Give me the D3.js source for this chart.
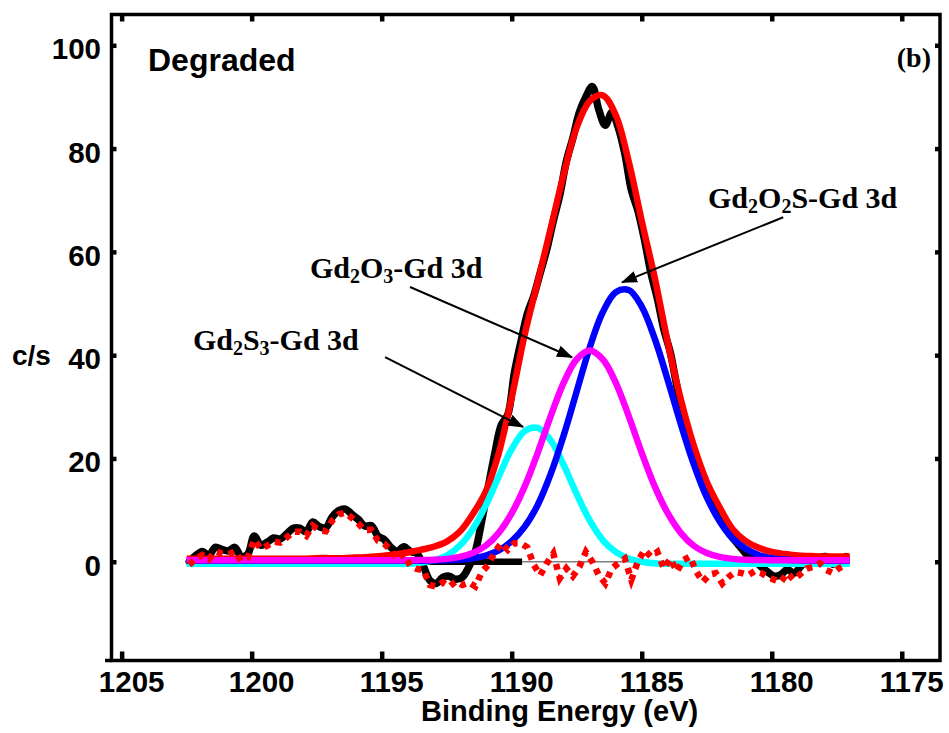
<!DOCTYPE html>
<html>
<head>
<meta charset="utf-8">
<script src="https://cdn.jsdelivr.net/npm/d3@7"></script>
<style>
  body { margin: 0; background: #fff; }
  svg { display: block; }
</style>
</head>
<body>
<svg width="949" height="733"></svg>
<script>
// fitted components on a 0.5 eV grid
const fitEnergy = [
  1202.5, 1202, 1201.5, 1201, 1200.5, 1200, 1199.5, 1199, 1198.5, 1198,
  1197.5, 1197, 1196.5, 1196, 1195.5, 1195, 1194.5, 1194, 1193.5, 1193,
  1192.5, 1192, 1191.5, 1191, 1190.5, 1190, 1189.5, 1189, 1188.5, 1188,
  1187.5, 1187, 1186.5, 1186, 1185.5, 1185, 1184.5, 1184, 1183.5, 1183,
  1182.5, 1182, 1181.5, 1181, 1180.5, 1180, 1179.5, 1179, 1178.5, 1178,
  1177.5, 1177
];
const gd2s3Fit = [
  -0.4, -0.4, -0.4, -0.4, -0.4, -0.4, -0.4, -0.4, -0.4, -0.4,
  -0.4, -0.4, -0.4, -0.4, -0.4, -0.4, -0.4, -0.4, -0.2, 0.3,
  1.2, 3.1, 6.3, 10.9, 16.5, 21.8, 25.3, 25.9, 23.5, 18.7,
  13.1, 8.0, 4.2, 1.9, 0.6, 0.0, -0.3, -0.4, -0.4, -0.4,
  -0.4, -0.4, -0.4, -0.4, -0.4, -0.4, -0.4, -0.4, -0.4, -0.4,
  -0.4, -0.4
];
const gd2o3Fit = [
  0.3, 0.3, 0.3, 0.3, 0.3, 0.3, 0.3, 0.3, 0.3, 0.3,
  0.3, 0.3, 0.3, 0.3, 0.3, 0.3, 0.3, 0.3, 0.34, 0.4,
  0.56, 0.93, 1.7, 3.1, 5.6, 9.4, 14.6, 21.1, 28.2, 34.7,
  39.2, 40.9, 39.2, 34.7, 28.2, 21.1, 14.6, 9.4, 5.6, 3.1,
  1.7, 0.93, 0.56, 0.4, 0.34, 0.3, 0.3, 0.3, 0.3, 0.3,
  0.3, 0.3
];
const gd2o2sFit = [
  0.2, 0.2, 0.2, 0.2, 0.2, 0.2, 0.2, 0.2, 0.2, 0.2,
  0.2, 0.2, 0.2, 0.2, 0.2, 0.2, 0.2, 0.2, 0.2, 0.23,
  0.27, 0.39, 0.65, 1.2, 2.2, 4.0, 6.8, 11.0, 17.0, 24.5,
  33.0, 41.5, 48.3, 52.2, 52.6, 49.4, 43.2, 35.2, 26.7, 18.9,
  12.5, 7.8, 4.5, 2.5, 1.3, 0.7, 0.43, 0.29, 0.23, 0.2,
  0.2, 0.2
];
const envelopeFit = [
  0.6, 0.6, 0.6, 0.6, 0.6, 0.6, 0.6, 0.6, 0.6, 0.6,
  0.7, 0.7, 0.7, 0.8, 0.9, 1.1, 1.4, 1.8, 2.3, 2.9,
  3.9, 5.8, 9.2, 13.6, 21.0, 31.8, 44.0, 54.2, 64.5, 75.0,
  84.1, 89.2, 90.3, 86.5, 77.5, 66.0, 55.0, 42.5, 31.5, 22.5,
  15.5, 10.5, 6.3, 4.0, 2.7, 1.9, 1.5, 1.2, 1.1, 1.0,
  1.0, 1.0
];

// measured spectrum and residual, 0.25 eV steps
const rawEnergy = [
  1202.4, 1202.15, 1201.9, 1201.65, 1201.4, 1201.15, 1200.9, 1200.65, 1200.4, 1200.15,
  1199.9, 1199.65, 1199.4, 1199.15, 1198.9, 1198.65, 1198.4, 1198.15, 1197.9, 1197.65,
  1197.4, 1197.15, 1196.9, 1196.65, 1196.4, 1196.15, 1195.9, 1195.65, 1195.4, 1195.15,
  1194.9, 1194.65, 1194.4, 1194.15, 1193.9, 1193.65, 1193.4, 1193.15, 1192.9, 1192.65,
  1192.4, 1192.15, 1191.9, 1191.65, 1191.4, 1191.15, 1190.9, 1190.65, 1190.4, 1190.15,
  1189.9, 1189.65, 1189.4, 1189.15, 1188.9, 1188.65, 1188.4, 1188.15, 1187.9, 1187.65,
  1187.4, 1187.15, 1186.9, 1186.65, 1186.4, 1186.15, 1185.9, 1185.65, 1185.4, 1185.15,
  1184.9, 1184.65, 1184.4, 1184.15, 1183.9, 1183.65, 1183.4, 1183.15, 1182.9, 1182.65,
  1182.4, 1182.15, 1181.9, 1181.65, 1181.4, 1181.15, 1180.9, 1180.65, 1180.4, 1180.15,
  1179.9, 1179.65, 1179.4, 1179.15, 1178.9, 1178.65, 1178.4, 1178.15, 1177.9, 1177.65,
  1177.4, 1177.15
];
const rawCounts = [
  0.0, 1.2, 2.0, 1.2, 2.8, 2.4, 2.1, 2.8, 1.0, 1.5,
  5.0, 3.2, 3.8, 4.6, 4.4, 5.4, 6.5, 6.5, 5.8, 7.7,
  6.8, 6.6, 8.7, 9.9, 10.2, 9.2, 8.2, 6.9, 7.0, 5.0,
  4.3, 2.8, 2.0, 2.9, 2.0, 1.6, -0.8, -3.6, -4.2, -3.0,
  -2.8, -3.4, -3.0, -1.0, 2.0, 8.0, 14.5, 21.0, 26.5, 28.5,
  36.5, 42.5, 48.0, 51.5, 56.0, 60.5, 66.0, 71.0, 77.5, 82.0,
  87.0, 90.0, 92.0, 87.5, 84.5, 87.0, 84.0, 79.0, 72.0, 68.0,
  62.5, 56.0, 51.0, 45.0, 40.5, 34.0, 28.0, 24.0, 19.5, 16.0,
  12.5, 10.0, 7.5, 5.5, 4.0, 2.5, 1.0, 0.2, -1.0, -2.0,
  -2.8, -2.5, -1.5, -2.2, -1.0, 0.5, 0.0, 0.8, 1.0, -0.5,
  0.3, 1.0
];
const residual = [
  -0.6, 0.6, 1.3, 0.5, 2.0, 1.6, 1.4, 2.0, 0.2, 0.8,
  4.3, 2.5, 3.1, 3.9, 3.7, 4.7, 5.8, 5.8, 5.0, 7.0,
  6.1, 5.9, 8.0, 9.2, 9.5, 8.5, 7.4, 6.1, 6.2, 4.1,
  3.5, 2.2, 0.5, 1.5, -0.8, -1.4, -1.6, -4.5, -4.8, -4.0,
  -4.8, -3.8, -4.5, -4.0, -4.8, -2.0, -0.6, 1.9, 3.6, 2.3,
  3.6, 3.6, 2.8, -0.6, -2.6, -0.3, 1.6, -3.2, -1.3, -2.8,
  -1.0, 1.9, 0.0, -2.6, -4.2, -1.3, -0.3, 0.6, -3.5, 0.0,
  2.3, 1.0, 1.9, -1.3, 0.6, -1.9, 0.3, 1.0, -1.9, -3.9,
  -2.5, -2.2, -4.2, -2.9, -2.0, -2.2, -2.6, -1.8, -2.2, -3.0,
  -3.5, -3.9, -2.2, -3.5, -2.4, -1.3, -1.0, -0.3, -1.6, -2.2,
  -1.2, -0.6
];

// background (zero) line: thick part then thin part
const backgroundThick = [1202.4, 1189.6];
const backgroundThin = [1189.6, 1177.0];

const xTicks = [1205, 1200, 1195, 1190, 1185, 1180, 1175];
const yTicks = [0, 20, 40, 60, 80, 100];

const plotLeft = 111.5, plotRight = 940, plotTop = 14.5, plotBottom = 660.5;
const sansFont = "'Liberation Sans', Arial, sans-serif";
const serifFont = "'Liberation Serif', 'Times New Roman', serif";

const x = d3.scaleLinear().domain([1205.39, 1173.53]).range([plotLeft, plotRight]);
const y = d3.scaleLinear().domain([-19.12, 105.96]).range([plotBottom, plotTop]);

const svg = d3.select("svg");

// arrow head
svg.append("defs").append("marker")
  .attr("id", "head")
  .attr("viewBox", "0 0 16 12")
  .attr("refX", 15)
  .attr("refY", 6)
  .attr("markerWidth", 16)
  .attr("markerHeight", 12)
  .attr("markerUnits", "userSpaceOnUse")
  .attr("orient", "auto")
  .append("path")
  .attr("d", "M0,0L16,6L0,12Z")
  .attr("fill", "black");

const plot = svg.append("g");

// raw data
plot.append("path")
  .attr("d", d3.line()
    .x((d, i) => x(rawEnergy[i]))
    .y(d => y(d))
    .curve(d3.curveCatmullRom)(rawCounts))
  .attr("fill", "none")
  .attr("stroke", "black")
  .attr("stroke-width", 7.5)
  .attr("stroke-linejoin", "round")
  .attr("stroke-linecap", "round");

// background
plot.append("line")
  .attr("x1", x(backgroundThick[0])).attr("x2", x(backgroundThick[1]))
  .attr("y1", y(0)).attr("y2", y(0))
  .attr("stroke", "black").attr("stroke-width", 6.5);
plot.append("line")
  .attr("x1", x(backgroundThin[0])).attr("x2", x(backgroundThin[1]))
  .attr("y1", y(0)).attr("y2", y(0))
  .attr("stroke", "#808080").attr("stroke-width", 1.5);

const fitLine = d3.line()
  .x((d, i) => x(fitEnergy[i]))
  .y(d => y(d))
  .curve(d3.curveCatmullRom);

const fits = [
  { values: envelopeFit, color: "#ff0000" },
  { values: gd2s3Fit, color: "#00ffff" },
  { values: gd2o2sFit, color: "#0000ff" },
  { values: gd2o3Fit, color: "#ff00ff" }
];
plot.selectAll(".fit")
  .data(fits)
  .enter()
  .append("path")
  .classed("fit", true)
  .attr("d", d => fitLine(d.values))
  .attr("fill", "none")
  .attr("stroke", d => d.color)
  .attr("stroke-width", 6.5)
  .attr("stroke-linejoin", "round");

// residual, dotted
plot.append("path")
  .attr("d", d3.line()
    .x((d, i) => x(rawEnergy[i]))
    .y(d => y(d))(residual))
  .attr("fill", "none")
  .attr("stroke", "#ff0000")
  .attr("stroke-width", 6.5)
  .attr("stroke-dasharray", "6 6");

// axes (ticks inward)
const xAxis = svg.append("g")
  .attr("transform", `translate(0,${plotBottom})`)
  .call(d3.axisBottom(x).tickValues(xTicks).tickFormat(d3.format("d")).tickSize(-9).tickSizeOuter(0));
xAxis.select(".domain").remove();
xAxis.selectAll(".tick line").attr("stroke-width", 4.5);
xAxis.selectAll(".tick text")
  .attr("font-family", sansFont)
  .attr("font-weight", "bold")
  .attr("font-size", 29.5)
  .attr("fill", "black")
  .attr("dx", 9.5)
  .attr("y", 31.5)
  .attr("dy", 0);

const xTop = svg.append("g")
  .attr("transform", `translate(0,${plotTop})`)
  .call(d3.axisTop(x).tickValues(xTicks).tickFormat("").tickSize(-7).tickSizeOuter(0));
xTop.select(".domain").remove();
xTop.selectAll(".tick line").attr("stroke-width", 4.5);

const yAxis = svg.append("g")
  .attr("transform", `translate(${plotLeft},0)`)
  .call(d3.axisLeft(y).tickValues(yTicks).tickSize(-5).tickSizeOuter(0).tickPadding(10.5));
yAxis.select(".domain").remove();
yAxis.selectAll(".tick line").attr("stroke-width", 4.5);
yAxis.selectAll(".tick text")
  .attr("font-family", sansFont)
  .attr("font-weight", "bold")
  .attr("font-size", 29.5)
  .attr("fill", "black")
  .attr("y", 13.5)
  .attr("dy", 0);

const yRight = svg.append("g")
  .attr("transform", `translate(${plotRight},0)`)
  .call(d3.axisRight(y).tickValues(yTicks).tickFormat("").tickSize(-5).tickSizeOuter(0));
yRight.select(".domain").remove();
yRight.selectAll(".tick line").attr("stroke-width", 4.5);

// frame
svg.append("rect")
  .attr("x", plotLeft).attr("y", plotTop)
  .attr("width", plotRight - plotLeft).attr("height", plotBottom - plotTop)
  .attr("fill", "none")
  .attr("stroke", "black")
  .attr("stroke-width", 3.5);
svg.append("line")
  .attr("x1", 105).attr("x2", plotLeft)
  .attr("y1", plotBottom).attr("y2", plotBottom)
  .attr("stroke", "black").attr("stroke-width", 3.5);

// titles and axis labels
svg.append("text")
  .attr("x", 148).attr("y", 71)
  .attr("font-family", sansFont).attr("font-weight", "bold").attr("font-size", 32)
  .text("Degraded");
svg.append("text")
  .attr("x", 931).attr("y", 67)
  .attr("text-anchor", "end")
  .attr("font-family", serifFont).attr("font-weight", "bold").attr("font-size", 28)
  .text("(b)");
svg.append("text")
  .attr("x", 12).attr("y", 365)
  .attr("font-family", sansFont).attr("font-weight", "bold").attr("font-size", 28)
  .text("c/s");
svg.append("text")
  .attr("x", 421).attr("y", 721)
  .attr("font-family", sansFont).attr("font-weight", "bold").attr("font-size", 29)
  .text("Binding Energy (eV)");

// peak annotations: label position and arrow in data units
const annotations = [
  { parts: [["Gd", 0], ["2", 1], ["O", 0], ["2", 1], ["S-Gd 3d", 0]], at: [1182.45, 68.45], from: [1179.56, 66.7], to: [1185.76, 54.1] },
  { parts: [["Gd", 0], ["2", 1], ["O", 0], ["3", 1], ["-Gd 3d", 0]], at: [1197.76, 54.9], from: [1193.91, 53.2], to: [1187.68, 39.6] },
  { parts: [["Gd", 0], ["2", 1], ["S", 0], ["3", 1], ["-Gd 3d", 0]], at: [1202.26, 41.0], from: [1194.87, 39.6], to: [1189.56, 26.1] }
];

annotations.forEach(a => {
  svg.append("line")
    .attr("x1", x(a.from[0])).attr("y1", y(a.from[1]))
    .attr("x2", x(a.to[0])).attr("y2", y(a.to[1]))
    .attr("stroke", "black").attr("stroke-width", 2)
    .attr("marker-end", "url(#head)");
  const t = svg.append("text")
    .attr("x", x(a.at[0])).attr("y", y(a.at[1]))
    .attr("font-family", serifFont).attr("font-weight", "bold").attr("font-size", 30);
  let shifted = false;
  a.parts.forEach(([s, sub]) => {
    const span = t.append("tspan").text(s);
    if (sub) {
      span.attr("font-size", 20).attr("dy", shifted ? 0 : 5);
      shifted = true;
    } else {
      span.attr("dy", shifted ? -5 : 0);
      shifted = false;
    }
  });
});
</script>
</body>
</html>
